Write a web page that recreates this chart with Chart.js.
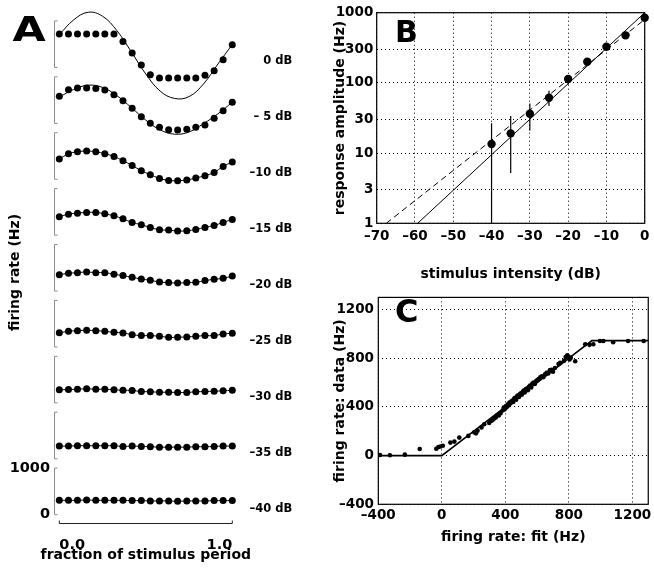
<!DOCTYPE html>
<html>
<head>
<meta charset="utf-8">
<title>Firing rate and stimulus intensity</title>
<script src="https://cdn.jsdelivr.net/npm/chart.js@4.4.0/dist/chart.umd.min.js"></script>
<style>
  html, body { margin: 0; padding: 0; background: #fff; }
  body { position: relative; width: 654px; height: 571px; overflow: hidden; }
  canvas { position: absolute; }
  #chartA { left: 0; top: 0; }
  #chartB { left: 325px; top: 0; }
  #chartC { left: 325px; top: 285px; }
</style>
</head>
<body>
<canvas id="chartA" width="300" height="571"></canvas>
<canvas id="chartB" width="329" height="290"></canvas>
<canvas id="chartC" width="329" height="286"></canvas>
<script>
// ---- panel A: firing rate (Hz) over one stimulus period, one row per level
const phase = [0, 0.053, 0.105, 0.158, 0.211, 0.263, 0.316, 0.368, 0.421, 0.474,
               0.526, 0.579, 0.632, 0.684, 0.737, 0.789, 0.842, 0.895, 0.947, 1];
const levels = ['0 dB', '\u2013 5 dB', '\u201310 dB', '\u201315 dB', '\u201320 dB',
                '\u201325 dB', '\u201330 dB', '\u201335 dB', '\u201340 dB'];
const rate0  = [942, 942, 942, 942, 942, 942, 942, 784, 535, 278, 71, 0, 0, 0, 0, 0, 56, 156, 392, 713];
const rate5  = [805, 946, 983, 983, 976, 940, 839, 711, 548, 368, 227, 141, 90, 84, 98, 141, 191, 334, 497, 677];
const rate10 = [660, 773, 816, 831, 816, 773, 715, 623, 522, 409, 323, 244, 201, 195, 210, 253, 302, 373, 501, 595];
const rate15 = [619, 677, 698, 713, 713, 683, 640, 576, 499, 448, 392, 340, 334, 313, 319, 349, 392, 435, 499, 563];
const rate20 = [578, 606, 621, 634, 621, 621, 585, 557, 520, 484, 456, 420, 407, 398, 407, 413, 450, 478, 499, 548];
const rate25 = [533, 561, 576, 582, 576, 561, 540, 527, 490, 469, 469, 454, 433, 433, 441, 454, 469, 469, 505, 518];
const rate30 = [505, 512, 518, 527, 518, 518, 505, 497, 490, 469, 463, 454, 454, 448, 448, 463, 469, 475, 484, 497];
const rate35 = [497, 497, 505, 505, 505, 505, 505, 490, 497, 490, 484, 475, 475, 475, 475, 484, 484, 490, 497, 497];
const rate40 = [533, 533, 533, 540, 533, 533, 533, 533, 527, 527, 520, 520, 520, 512, 520, 520, 520, 527, 527, 527];
const rates = [rate0, rate5, rate10, rate15, rate20, rate25, rate30, rate35, rate40];
// sinusoid fits drawn separately where they leave the dots
const fitPhase = [0, 0.083, 0.167, 0.25, 0.333, 0.417, 0.5, 0.583, 0.667, 0.75, 0.833, 0.917, 1];
const fit0 = [930, 1247, 1411, 1325, 1016, 557, 85, -282, -440, -400, -130, 300, 720];
const fit5 = [790, 953, 1045, 997, 820, 563, 294, 85, -7, 41, 218, 430, 680];
const rowMin = 25, rowMax = 1225;      // y range of one row
const barLo = 225, barHi = 1225;       // 1000 Hz scale bracket

// ---- panel B: response amplitude vs intensity
const intensity = [-40, -35, -30, -25, -20, -15, -10, -5, 0];
const amplitude = [13.5, 19.1, 36.4, 61.5, 114, 200, 328, 476, 849];
const errX    = [-40, -35, -30, -25, -20];
const errLow  = [0.1, 5.2, 21, 47, 95];
const errHigh = [26.6, 33.8, 51, 77, 128];
const solidX = [-59.3, 0], solidY = [1, 1000];
const dashX  = [-67.5, 0], dashY  = [1, 800];
const ampTicks = [1, 3, 10, 30, 100, 300, 1000];

// ---- panel C: measured vs fitted firing rate
const rateFit = [-389, -327, -233, -139, -35, -21, -8, 6, 54, 79, 110, 167, 204, 215, 225, 250, 267,
  298, 309, 319, 329, 340, 350, 360, 371, 384, 390, 396, 402, 408, 414, 420, 426, 432, 438,
  444, 450, 456, 462, 468, 474, 480, 486, 492, 498, 504, 510, 516, 522, 528, 535, 542, 549,
  556, 563, 570, 578, 586, 594, 602, 610, 620, 630, 640, 650, 660, 670, 680, 690, 700, 712,
  735, 745, 770, 780, 790, 798, 805, 812, 840, 903, 930, 954, 996, 1017, 1079, 1173, 1271];
const rateData = [5, 3, 8, 54, 57, 70, 75, 81, 107, 115, 148, 162, 191, 183, 204, 232, 258,
  269, 285, 291, 304, 313, 331, 331, 350, 372, 395, 380, 405, 398, 420, 412, 436, 428, 445,
  452, 440, 468, 475, 460, 488, 496, 482, 505, 512, 500, 525, 534, 518, 545, 552, 538, 566,
  575, 560, 592, 600, 588, 612, 620, 630, 644, 652, 645, 668, 680, 675, 700, 706, 690, 720,
  752, 762, 780, 810, 825, 815, 790, 805, 775, 915, 910, 915, 942, 942, 931, 942, 942];
const satX = [-400, 0, 945, 1300], satY = [0, 0, 945, 945];
const rateTicks = [-400, 0, 400, 800, 1200];

Chart.defaults.font.family = "'DejaVu Sans', sans-serif";
Chart.defaults.font.weight = 'bold';
Chart.defaults.color = '#000';

const dash = v => (v < 0 ? '\u2013' + Math.abs(v) : String(v));

// frame, row brackets, level labels and panel letters
const deco = {
  id: 'deco',
  afterDraw(chart, args, opts) {
    const { ctx, chartArea: a } = chart;
    ctx.save();
    if (opts.frame) {
      ctx.strokeStyle = '#000';
      ctx.lineWidth = 1.2;
      ctx.strokeRect(a.left, a.top, a.right - a.left, a.bottom - a.top);
    }
    if (opts.rows) {
      ctx.lineWidth = 1;
      opts.rows.forEach((lab, i) => {
        const s = chart.scales['y' + i];
        const top = s.getPixelForValue(barHi), bot = s.getPixelForValue(barLo);
        const x = Math.round(a.left) - 0.5;
        ctx.strokeStyle = '#8c8c8c';
        ctx.beginPath();
        ctx.moveTo(x + 3, top); ctx.lineTo(x, top); ctx.lineTo(x, bot); ctx.lineTo(x + 3, bot);
        ctx.stroke();
        ctx.fillStyle = '#000';
        ctx.font = 'bold 11.5px "DejaVu Sans"';
        ctx.textAlign = 'right';
        ctx.textBaseline = 'middle';
        ctx.fillText(lab, a.right + 60, bot - 6);
      });
      const sx = chart.scales.x;
      const y = Math.round(a.bottom) - 0.5;
      const x0 = sx.getPixelForValue(0), x1 = sx.getPixelForValue(1);
      ctx.strokeStyle = '#222';
      ctx.beginPath();
      ctx.moveTo(x0, y - 3); ctx.lineTo(x0, y); ctx.lineTo(x1, y); ctx.lineTo(x1, y - 3);
      ctx.stroke();
      // axis title, drawn here so it is not squeezed to the narrow plot width
      ctx.fillStyle = '#000';
      ctx.font = 'bold 14px "DejaVu Sans"';
      ctx.textAlign = 'center';
      ctx.textBaseline = 'middle';
      ctx.fillText(opts.xTitle, (x0 + x1) / 2, sx.bottom - 15.5);
    }
    if (opts.letter) {
      const L = opts.letter;
      ctx.fillStyle = '#000';
      ctx.font = 'bold ' + L.size + 'px "DejaVu Sans"';
      ctx.textAlign = 'left';
      ctx.textBaseline = 'alphabetic';
      ctx.translate(L.x, L.y);
      ctx.scale(L.sx || 1, 1);
      ctx.fillText(L.text, 0, 0);
    }
    ctx.restore();
  }
};

const noise = { legend: { display: false }, tooltip: { enabled: false } };

// ---------- panel A
const scalesA = {
  x: {
    type: 'linear', position: 'bottom', min: -0.025, max: 1,
    grid: { display: false }, border: { display: false },
    afterBuildTicks: s => { s.ticks = [{ value: 0 }, { value: 1 }]; },
    ticks: { align: 'inner', padding: 5, font: { size: 14.5 }, callback: v => v.toFixed(1) },
    afterFit: s => { s.height = 47; }
  }
};
levels.forEach((lab, i) => {
  scalesA['y' + i] = {
    type: 'linear', position: 'left', stack: 'rows', stackWeight: 1, weight: 20 - i,
    min: rowMin, max: rowMax,
    grid: { display: false }, border: { display: false },
    afterBuildTicks: s => { s.ticks = [{ value: barLo }, { value: barHi }]; },
    ticks: { display: i === levels.length - 1, padding: -3, font: { size: 14.5 },
             callback: v => String(v - barLo) },
    title: { display: i === 4, text: 'firing rate (Hz)', font: { size: 14 }, padding: { top: 7.4, bottom: 0 } },
    afterFit: s => { s.width = 55; }
  };
});

const fitSets = [fit0, fit5].map((f, i) => ({
  yAxisID: 'y' + i,
  data: fitPhase.map((p, j) => ({ x: p, y: f[j] })),
  borderColor: '#000', borderWidth: 1, tension: 0.4, pointRadius: 0, clip: false
}));
const traceSets = rates.map((r, i) => ({
  yAxisID: 'y' + i,
  data: phase.map((p, j) => ({ x: p, y: r[j] })),
  showLine: i > 1,
  borderColor: '#000', borderWidth: 1, tension: 0.4,
  pointRadius: 3.5, pointBackgroundColor: '#000', pointBorderWidth: 0, clip: false
}));

new Chart('chartA', {
  type: 'line',
  data: { datasets: fitSets.concat(traceSets) },
  options: {
    responsive: false, animation: false, events: [],
    layout: { padding: { top: 20.9, right: 67.7, left: 0, bottom: 0 } },
    plugins: Object.assign({ deco: { rows: levels, xTitle: 'fraction of stimulus period',
      letter: { text: 'A', x: 12.5, y: 40.5, size: 33, sx: 1.3 } } }, noise),
    scales: scalesA
  },
  plugins: [deco]
});

// ---------- panel B
const errData = [];
errX.forEach((x, i) => {
  errData.push({ x: x, y: errLow[i] }, { x: x, y: errHigh[i] }, { x: x, y: null });
});

new Chart('chartB', {
  type: 'line',
  data: {
    datasets: [
      { data: errData, borderColor: '#000', borderWidth: 1.2, pointRadius: 0, spanGaps: false },
      { data: solidX.map((x, i) => ({ x: x, y: solidY[i] })), borderColor: '#000', borderWidth: 1, pointRadius: 0 },
      { data: dashX.map((x, i) => ({ x: x, y: dashY[i] })), borderColor: '#000', borderWidth: 1, borderDash: [6, 4], pointRadius: 0 },
      { data: intensity.map((x, i) => ({ x: x, y: amplitude[i] })), showLine: false,
        pointRadius: 4.2, pointBackgroundColor: '#000', pointBorderWidth: 0, clip: false }
    ]
  },
  options: {
    responsive: false, animation: false, events: [],
    layout: { padding: { top: 12.7, right: 4, left: 0, bottom: 0 } },
    plugins: Object.assign({ deco: { frame: true, letter: { text: 'B', x: 70, y: 42, size: 30 } } }, noise),
    scales: {
      x: {
        type: 'linear', min: -70, max: 0,
        grid: { color: '#000', drawTicks: false }, border: { display: false, dash: [1, 3] },
        ticks: { stepSize: 10, padding: 4.6, font: { size: 13.5 }, callback: dash },
        title: { display: true, text: 'stimulus intensity (dB)', font: { size: 14 }, padding: { top: 0, bottom: 7 } },
        afterFit: s => { s.height = 66.7; }
      },
      y: {
        type: 'logarithmic', min: 1, max: 1000,
        grid: { color: '#000', drawTicks: false }, border: { display: false, dash: [1, 3] },
        afterBuildTicks: s => { s.ticks = ampTicks.map(v => ({ value: v })); },
        ticks: { padding: 3.4, font: { size: 13.5 }, callback: v => String(v) },
        title: { display: true, text: 'response amplitude (Hz)', font: { size: 14 }, padding: { top: 6.6, bottom: 0 } },
        afterFit: s => { s.width = 51.7; }
      }
    }
  },
  plugins: [deco]
});

// ---------- panel C
new Chart('chartC', {
  type: 'line',
  data: {
    datasets: [
      { data: satX.map((x, i) => ({ x: x, y: satY[i] })), borderColor: '#000', borderWidth: 1.6, pointRadius: 0 },
      { data: rateFit.map((x, i) => ({ x: x, y: rateData[i] })), showLine: false,
        pointRadius: 2.3, pointBackgroundColor: '#000', pointBorderWidth: 0 }
    ]
  },
  options: {
    responsive: false, animation: false, events: [],
    layout: { padding: { top: 9, right: 3.7, left: 0, bottom: 0 } },
    plugins: Object.assign({ deco: { frame: true, letter: { text: 'C', x: 70, y: 36.5, size: 32 } } }, noise),
    scales: {
      x: {
        type: 'linear', min: -400, max: 1300,
        grid: { color: '#000', drawTicks: false }, border: { display: false, dash: [1, 3] },
        afterBuildTicks: s => { s.ticks = rateTicks.map(v => ({ value: v })); },
        ticks: { padding: 2.6, font: { size: 13.5 }, callback: dash },
        title: { display: true, text: 'firing rate: fit (Hz)', font: { size: 14 }, padding: { top: 0, bottom: 25 } },
        afterFit: s => { s.height = 66.7; }
      },
      y: {
        type: 'linear', min: -400, max: 1300,
        grid: { color: '#000', drawTicks: false }, border: { display: false, dash: [1, 3] },
        afterBuildTicks: s => { s.ticks = rateTicks.map(v => ({ value: v })); },
        ticks: { padding: 4.3, font: { size: 13.5 }, callback: dash },
        title: { display: true, text: 'firing rate: data (Hz)', font: { size: 14 }, padding: { top: 6.6, bottom: 0 } },
        afterFit: s => { s.width = 53.3; }
      }
    }
  },
  plugins: [deco]
});
</script>
</body>
</html>
